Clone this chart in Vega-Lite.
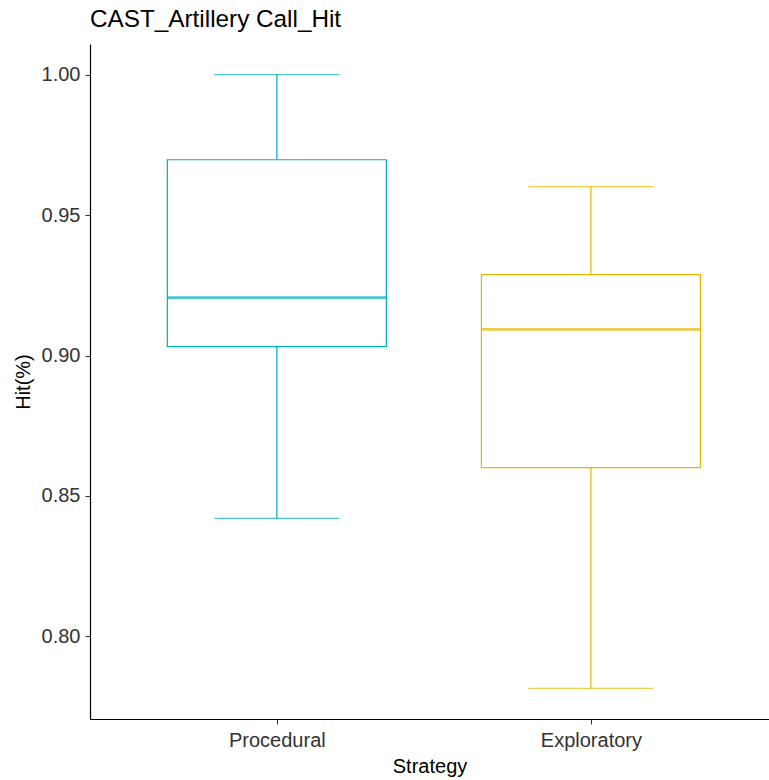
{
  "$schema": "https://vega.github.io/schema/vega-lite/v6.json",
  "width": 679,
  "height": 675,
  "autosize": {"type": "none"},
  "padding": {"left": 90, "top": 44, "right": 0, "bottom": 61},
  "background": "white",
  "title": {"text": "CAST_Artillery Call_Hit", "anchor": "start", "frame": "group", "font": "Liberation Sans", "fontSize": 24.3, "fontWeight": "normal", "color": "#000000", "offset": 12},
  "config": {"view": {"stroke": null}, "font": "Liberation Sans"},
  "data": {"values": [
    {"Strategy": "Procedural", "lower": 0.842, "q1": 0.9032, "median": 0.9206, "q3": 0.9697, "upper": 1.0},
    {"Strategy": "Exploratory", "lower": 0.7815, "q1": 0.8601, "median": 0.9093, "q3": 0.9288, "upper": 0.9601}
  ]},
  "encoding": {
    "x": {"field": "Strategy", "type": "nominal", "sort": ["Procedural", "Exploratory"],
      "scale": {"type": "point", "padding": 0.581, "align": 0.512},
      "axis": {"title": "Strategy", "labelAngle": 0, "labelFontSize": 20, "labelColor": "#333333", "titleFontSize": 20, "titleFontWeight": "normal", "titleColor": "#000000", "domainColor": "#000000", "domainWidth": 1.2, "tickColor": "#333333", "tickSize": 5, "labelPadding": 6, "titlePadding": 6, "grid": false}},
    "color": {"field": "Strategy", "type": "nominal", "scale": {"domain": ["Procedural", "Exploratory"], "range": ["#00AFBB", "#E7B800"]}, "legend": null}
  },
  "layer": [
    {"mark": {"type": "rule", "strokeWidth": 1.2},
     "encoding": {"y": {"field": "q3", "type": "quantitative",
        "scale": {"domain": [0.7706, 1.0109], "nice": false, "zero": false},
        "axis": {"title": "Hit(%)", "values": [0.8, 0.85, 0.9, 0.95, 1.0], "format": ".2f", "labelFontSize": 20, "labelColor": "#333333", "titleFontSize": 20, "titleFontWeight": "normal", "titleColor": "#000000", "domainColor": "#000000", "domainWidth": 1.2, "tickColor": "#333333", "tickSize": 5, "labelPadding": 5, "titlePadding": 8, "grid": false}},
       "y2": {"field": "upper"}}},
    {"mark": {"type": "rule", "strokeWidth": 1.2},
     "encoding": {"y": {"field": "lower", "type": "quantitative"}, "y2": {"field": "q1"}}},
    {"mark": {"type": "tick", "size": 125, "thickness": 1.2, "orient": "horizontal"},
     "encoding": {"y": {"field": "upper", "type": "quantitative"}}},
    {"mark": {"type": "tick", "size": 125, "thickness": 1.2, "orient": "horizontal"},
     "encoding": {"y": {"field": "lower", "type": "quantitative"}}},
    {"mark": {"type": "bar", "width": 219, "fill": "white", "strokeWidth": 1.2},
     "encoding": {"y": {"field": "q1", "type": "quantitative"}, "y2": {"field": "q3"}, "stroke": {"field": "Strategy", "type": "nominal", "scale": {"domain": ["Procedural", "Exploratory"], "range": ["#00AFBB", "#E7B800"]}, "legend": null}, "color": {"value": "white"}}},
    {"mark": {"type": "tick", "size": 219, "thickness": 2.6, "orient": "horizontal"},
     "encoding": {"y": {"field": "median", "type": "quantitative"}}}
  ]
}
